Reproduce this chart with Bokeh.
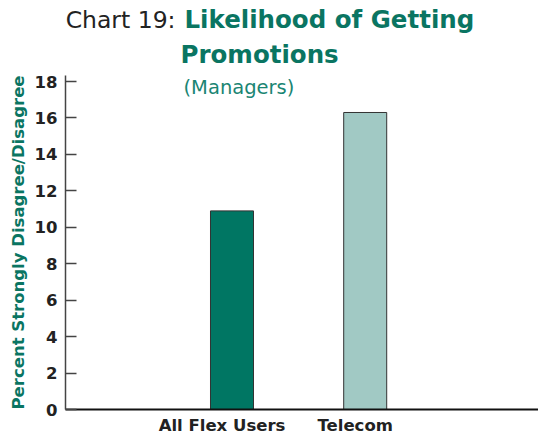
from bokeh.plotting import figure
from bokeh.models import Range1d, FixedTicker, Label
from bokeh.layouts import column
from bokeh.embed import file_html
from bokeh.resources import INLINE

# Data
categories = ["All Flex Users", "Telecom"]
values = [10.9, 16.3]
bar_colors = ["#007663", "#a1c9c4"]
y_ticks = [0, 2, 4, 6, 8, 10, 12, 14, 16, 18]
x_pos = [1, 2]

TEAL = "#0a7562"
LABEL_SHIFT = -0.075  # category labels sit slightly left of the bar centres

# Title panel (data units = pixels)
t = figure(width=538, height=71, output_backend="svg", toolbar_location=None,
           x_range=Range1d(65, 538), y_range=Range1d(0, 71),
           x_axis_location=None, y_axis_location=None,
           min_border_left=65, min_border_right=0, min_border_top=0, min_border_bottom=0)
t.outline_line_color = None
t.grid.visible = False
t.add_layout(Label(x=175, y=52, text="Chart 19:", text_align="right",
                   text_baseline="alphabetic", text_font="DejaVu Sans",
                   text_font_size="23.5px", text_color="#222222"))
t.add_layout(Label(x=184, y=52, text="Likelihood of Getting", text_align="left",
                   text_baseline="alphabetic", text_font="DejaVu Sans", text_font_style="bold",
                   text_font_size="24.5px", text_color=TEAL))
t.add_layout(Label(x=180, y=17, text="Promotions", text_align="left",
                   text_baseline="alphabetic", text_font="DejaVu Sans", text_font_style="bold",
                   text_font_size="24.5px", text_color=TEAL))

# Main chart
p = figure(width=538, height=366, output_backend="svg", toolbar_location=None,
           x_range=Range1d(-0.25, 3.301), y_range=Range1d(0, 18.33),
           min_border_left=65, min_border_top=4, min_border_right=0, min_border_bottom=26)
p.outline_line_color = None
p.grid.visible = False
p.background_fill_color = "white"
p.border_fill_color = "white"

p.vbar(x=x_pos, top=values, width=0.323, bottom=0, fill_color=bar_colors,
       line_color="#333333", line_width=1)

# y axis
ya = p.yaxis[0]
ya.ticker = FixedTicker(ticks=y_ticks)
ya.axis_line_color = "#444444"
ya.axis_line_width = 1.5
ya.major_tick_in = 11
ya.major_tick_out = 0
ya.major_tick_line_color = "#444444"
ya.major_tick_line_width = 1.5
ya.minor_tick_line_color = None
ya.major_label_text_font = "DejaVu Sans"
ya.major_label_text_font_style = "bold"
ya.major_label_text_font_size = "16.5px"
ya.major_label_text_color = "#222222"
ya.major_label_standoff = 8
ya.axis_label = "Percent Strongly Disagree/Disagree"
ya.axis_label_text_font = "DejaVu Sans"
ya.axis_label_text_font_style = "bold"
ya.axis_label_text_font_size = "16.5px"
ya.axis_label_text_color = TEAL
ya.axis_label_standoff = 4

# x axis
label_pos = [x + LABEL_SHIFT for x in x_pos]
xa = p.xaxis[0]
xa.ticker = FixedTicker(ticks=label_pos)
xa.major_label_overrides = {x: c for x, c in zip(label_pos, categories)}
xa.axis_line_color = "#111111"
xa.axis_line_width = 2
xa.major_tick_in = 0
xa.major_tick_out = 0
xa.minor_tick_line_color = None
xa.major_label_text_font = "DejaVu Sans"
xa.major_label_text_font_style = "bold"
xa.major_label_text_font_size = "16.5px"
xa.major_label_text_color = "#222222"
xa.major_label_standoff = 6

p.add_layout(Label(x=0.636, y=17.66, text="(Managers)", text_align="left",
                   text_baseline="alphabetic", text_font="DejaVu Sans",
                   text_font_size="19.5px", text_color="#1a8573"))

layout = column(t, p, spacing=0)
open("out.html", "w").write(file_html(layout, INLINE))
